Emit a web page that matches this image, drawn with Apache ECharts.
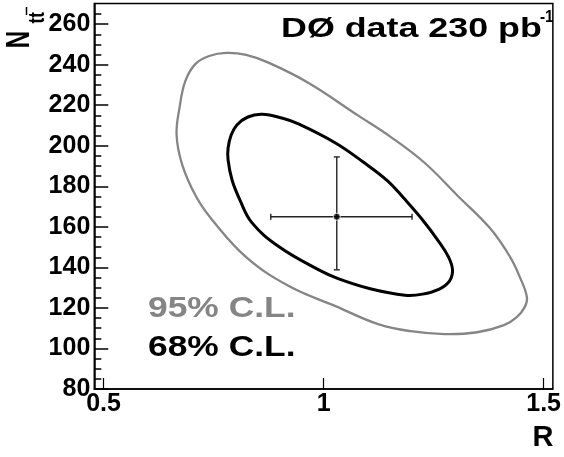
<!DOCTYPE html>
<html><head><meta charset="utf-8">
<script src="https://cdn.jsdelivr.net/npm/echarts@6/dist/echarts.min.js"></script>
<style>html,body{margin:0;padding:0;background:#fff}#c{width:564px;height:457px}</style>
</head><body><div id="c"></div>
<script>
// ---- data ----
const xTicks = [0.5, 1, 1.5];
const yTicks = [80, 100, 120, 140, 160, 180, 200, 220, 240, 260];
const yMinorTicks = [85, 90, 95, 105, 110, 115, 125, 130, 135, 145, 150, 155, 165, 170, 175,
  185, 190, 195, 205, 210, 215, 225, 230, 235, 245, 250, 255, 265];
// closed contours (R, N_ttbar), traced clockwise from the top
const contour68 = [[0.860,215.5],[0.905,213.7],[0.943,210.8],[1.027,201.4],[1.090,192.0],[1.146,182.6],
  [1.182,174.2],[1.225,163.4],[1.261,153.0],[1.284,145.1],[1.293,138.7],[1.286,133.2],[1.263,129.3],
  [1.225,126.8],[1.185,126.3],[1.106,129.5],[1.033,134.5],[0.988,138.9],[0.898,150.3],[0.837,162.1],
  [0.810,173.2],[0.792,183.1],[0.783,193.0],[0.783,198.9],[0.790,205.3],[0.803,210.3],[0.828,214.2]];
const contour95 = [[0.779,245.8],[0.824,244.8],[0.876,240.9],[0.966,231.0],[1.078,215.0],[1.153,204.3],
  [1.230,191.5],[1.304,175.5],[1.378,159.4],[1.424,145.1],[1.446,135.2],[1.462,125.3],[1.457,120.4],
  [1.439,115.5],[1.410,111.5],[1.349,108.0],[1.275,107.1],[1.198,108.5],[1.124,112.0],[1.027,120.9],
  [0.921,130.8],[0.824,145.1],[0.747,163.4],[0.711,174.7],[0.679,190.5],[0.666,205.3],[0.673,219.2],
  [0.686,232.0],[0.709,240.4],[0.740,244.3]];
const bestFit = [1.03, 165];
const errX = [0.880, 1.201];
const errY = [138.8, 194.5];
const titleText = 'DØ data 230 pb';
const titleSup = '-1';
const label95 = '95% C.L.';
const label68 = '68% C.L.';

const FONT = '"Liberation Sans", Arial, Helvetica, sans-serif';
const chart = echarts.init(document.getElementById('c'), null, {renderer: 'canvas'});

function contourSeries(arr, color, width, z) {
  return {
    type: 'custom', z: z, data: arr, clip: false,
    renderItem: function (params, api) {
      if (params.dataIndex !== 0) return null;
      const pts = arr.map(p => api.coord(p));
      return {type: 'polygon', shape: {points: pts, smooth: 0.4},
        style: {fill: 'none', stroke: color, lineWidth: width, lineJoin: 'round'}};
    }
  };
}

const option = {
  animation: false,
  backgroundColor: '#fff',
  grid: {left: 94.3, top: 3.5, right: 8, bottom: 68, show: true, borderColor: '#000', borderWidth: 1.5},
  xAxis: {
    type: 'value', min: 0.479, max: 1.521,
    axisLine: {show: true, onZero: false, lineStyle: {color: '#000', width: 1.5}},
    axisTick: {show: true, inside: true, length: 11, customValues: xTicks, lineStyle: {color: '#000', width: 1.2}},
    axisLabel: {customValues: xTicks, color: '#000', fontFamily: FONT, fontWeight: 'bold', fontSize: 25, margin: 3},
    splitLine: {show: false}
  },
  yAxis: [{
    type: 'value', min: 80, max: 270.2,
    axisLine: {show: true, onZero: false, lineStyle: {color: '#000', width: 1.5}},
    axisTick: {show: true, inside: true, length: 14, customValues: yTicks, lineStyle: {color: '#000', width: 1.5}},
    axisLabel: {customValues: yTicks, color: '#000', fontFamily: FONT, fontWeight: 'bold', fontSize: 25, margin: 4},
    splitLine: {show: false}
  }, {
    type: 'value', min: 80, max: 270.2, position: 'left',
    axisLine: {show: false},
    axisTick: {show: true, inside: true, length: 7, customValues: yMinorTicks, lineStyle: {color: '#000', width: 1.5}},
    axisLabel: {show: false},
    splitLine: {show: false}
  }],
  series: [
    contourSeries(contour95, '#858585', 2.3, 2),
    contourSeries(contour68, '#000', 3, 3),
    {
      type: 'custom', z: 4,
      data: [[bestFit[0], bestFit[1], errX[0], errX[1], errY[0], errY[1]]],
      renderItem: function (params, api) {
        const xl = api.coord([api.value(2), api.value(1)]);
        const xh = api.coord([api.value(3), api.value(1)]);
        const yl = api.coord([api.value(0), api.value(4)]);
        const yh = api.coord([api.value(0), api.value(5)]);
        const c = 3;
        const st = {stroke: '#222', lineWidth: 1.4};
        const ln = (x1, y1, x2, y2) => ({type: 'line', shape: {x1, y1, x2, y2}, style: st});
        return {type: 'group', children: [
          ln(xl[0], xl[1], xh[0], xh[1]),
          ln(yl[0], yl[1], yh[0], yh[1]),
          ln(xl[0], xl[1] - c, xl[0], xl[1] + c),
          ln(xh[0], xh[1] - c, xh[0], xh[1] + c),
          ln(yl[0] - c, yl[1], yl[0] + c, yl[1]),
          ln(yh[0] - c, yh[1], yh[0] + c, yh[1])
        ]};
      }
    },
    {type: 'scatter', data: [bestFit], symbol: 'circle', symbolSize: 7,
      itemStyle: {color: '#000', borderColor: '#fff', borderWidth: 1}, z: 5}
  ],
  graphic: [
    {type: 'text', x: 281, y: 29.5, scaleX: 1.28, z: 10,
      style: {text: titleText, fill: '#000', font: 'bold 28px ' + FONT, textAlign: 'left', textVerticalAlign: 'middle'}},
    {type: 'text', x: 540, y: 17, scaleX: 0.9, z: 10,
      style: {text: titleSup, fill: '#000', font: 'bold 17px ' + FONT, textAlign: 'left', textVerticalAlign: 'middle'}},
    {type: 'text', x: 148, y: 308.7, scaleX: 1.22, z: 10,
      style: {text: label95, fill: '#858585', font: 'bold 29px ' + FONT, textAlign: 'left', textVerticalAlign: 'middle'}},
    {type: 'text', x: 148, y: 348.3, scaleX: 1.22, z: 10,
      style: {text: label68, fill: '#000', font: 'bold 29px ' + FONT, textAlign: 'left', textVerticalAlign: 'middle'}},
    {type: 'text', x: 543, y: 438, z: 10,
      style: {text: 'R', fill: '#000', font: 'bold 29px ' + FONT, textAlign: 'center', textVerticalAlign: 'middle'}},
    {type: 'text', x: 20.3, y: 48.3, rotation: Math.PI / 2, scaleY: 1.38, z: 10,
      style: {text: 'N', fill: '#000', font: 'bold 24px ' + FONT, textAlign: 'left', textVerticalAlign: 'middle'}},
    {type: 'text', x: 38.5, y: 23.5, rotation: Math.PI / 2, scaleY: 1.25, z: 10,
      style: {text: 'tt', fill: '#000', font: 'bold 17px ' + FONT, textAlign: 'left', textVerticalAlign: 'middle'}},
    {type: 'line', z: 10, shape: {x1: 26.5, y1: 7, x2: 26.5, y2: 15}, style: {stroke: '#000', lineWidth: 1.5}}
  ]
};
chart.setOption(option);
</script>
</body></html>
